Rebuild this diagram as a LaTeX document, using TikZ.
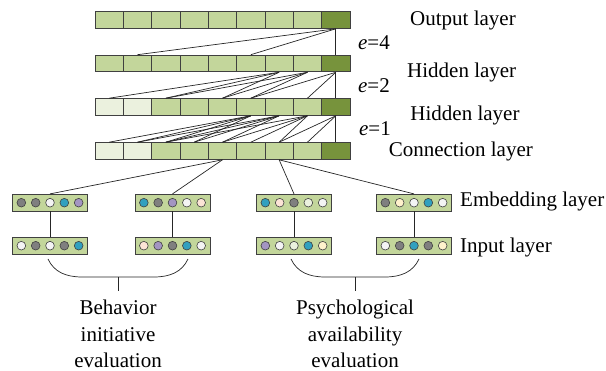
\documentclass[tikz,border=0pt]{standalone}
\usepackage{fontspec}
\setmainfont{Liberation Serif}
\usetikzlibrary{positioning,calc}

\definecolor{cellgreen}{HTML}{C3D69B}
\definecolor{cellpale}{HTML}{EBF1DE}
\definecolor{celldark}{HTML}{77933C}
\definecolor{cellline}{HTML}{404040}
\definecolor{dotgray}{HTML}{7F7F7F}
\definecolor{dotwhite}{HTML}{F4F4F4}
\definecolor{dotteal}{HTML}{31A0BF}
\definecolor{dotlilac}{HTML}{A395C2}
\definecolor{dotpeach}{HTML}{FCE4D6}
\definecolor{dotpale}{HTML}{EBF1DE}
\definecolor{dotcream}{HTML}{FFF2CC}

\tikzset{
  cell/.style={draw=cellline, line width=0.9pt, fill=cellgreen, minimum width=28.33pt, minimum height=16.7pt, inner sep=0pt},
  vecbox/.style={draw=cellline, line width=0.9pt, fill=cellgreen, minimum width=75pt, minimum height=16.7pt, inner sep=0pt},
  unit/.style={circle, draw=cellline, line width=0.6pt, minimum size=8.7pt, inner sep=0pt},
  link/.style={draw=black!85, line width=0.7pt},
  lbl/.style={font=\fontsize{21}{26.7}\selectfont, inner sep=0pt},
}

\begin{document}
\begin{tikzpicture}[x=1pt,y=-1pt]
  \useasboundingbox (0,0) rectangle (606,371);

  % stacked layers, last cell of each row is the dark one
  \foreach \row/\y/\f in {out/20/cellgreen, hidb/63.5/cellgreen, hida/107/cellpale, con/151/cellpale}{
    \foreach \i in {1,...,8}{
      \ifnum\i<3 \colorlet{cf}{\f}\else\colorlet{cf}{cellgreen}\fi
      \node[cell, fill=cf] (\row\i) at ({80.83+28.33*\i},\y) {};
    }
    \node[cell, fill=celldark] (\row9) at ({80.83+28.33*9},\y) {};
  }

  % dilated links between the rows
  \foreach \s/\t in {9/2,9/6,9/9}
    \draw[link] (out\s.south) -- (hidb\t.north);
  \foreach \s/\t in {7/1,7/3,7/5,8/3,8/5,8/6,9/6,9/8,9/9}
    \draw[link] (hidb\s.south) -- (hida\t.north);
  \foreach \s/\t in {6/1,6/2,6/3,6/4,7/2,7/3,7/4,7/5,8/3,8/5,8/6,8/7,9/7,9/8,9/9}
    \draw[link] (hida\s.south) -- (con\t.north);

  % embedding and input vectors
  \foreach \n/\x in {1/50,2/172.5,3/294,4/414}{
    \node[vecbox] (emb\n) at (\x,202.7) {};
    \node[vecbox] (inp\n) at (\x,245.7) {};
    \draw[link] (emb\n) -- (inp\n);
  }
  \foreach \b/\cols in {
      emb1/{dotgray,dotgray,dotwhite,dotteal,dotlilac},
      emb2/{dotteal,dotgray,dotlilac,dotwhite,dotpeach},
      emb3/{dotteal,dotpeach,dotgray,dotpale,dotwhite},
      emb4/{dotgray,dotcream,dotwhite,dotteal,dotwhite},
      inp1/{dotwhite,dotgray,dotwhite,dotgray,dotteal},
      inp2/{dotpeach,dotlilac,dotgray,dotteal,dotwhite},
      inp3/{dotlilac,dotwhite,dotpale,dotteal,dotcream},
      inp4/{dotwhite,dotgray,dotteal,dotgray,dotcream}}
    \foreach \c [count=\k] in \cols
      \node[unit, fill=\c] (\b-\k) at ([xshift={(\k-3)*14.33pt}]\b.center) {};

  \draw[link] (con5.south) -- (emb1.north);
  \draw[link] (con5.south) -- (emb2.north);
  \draw[link] (con7.south) -- (emb3.north);
  \draw[link] (con7.south) -- (emb4.north);

  % layer names
  \node[lbl] (outl) at (463,20.5) {Output layer};
  \node[lbl] (hidbl) at (461.7,72.5) {Hidden layer};
  \node[lbl] (hidal) at (465,115.8) {Hidden layer};
  \node[lbl] (conl) at (460.8,151) {Connection layer};
  \node[lbl] (e4) at (374,42.5) {\textit{e}=4};
  \node[lbl] (e2) at (374,86) {\textit{e}=2};
  \node[lbl] (e1) at (375,129) {\textit{e}=1};
  \node[lbl, anchor=west] (embl) at (460,201) {Embedding layer};
  \node[lbl, anchor=west] (inpl) at (460,247.5) {Input layer};

  % brackets under the inputs
  \draw[link] (48,259) .. controls (54,272) and (66,277) .. (82,277) -- (154,277)
    .. controls (170,277) and (182,272) .. (188,259);
  \draw[link] (291,259) .. controls (297,272) and (309,277) .. (325,277) -- (385,277)
    .. controls (401,277) and (413,272) .. (419,259);

  \node[lbl, align=center, anchor=north, inner ysep=8.6pt] (behav) at (118,291)
    {Behavior\\initiative\\evaluation};
  \node[lbl, align=center, anchor=north, inner ysep=8.6pt] (psych) at (355,291)
    {Psychological\\availability\\evaluation};
  \draw[link] (behav.north) -- ++(0,-14);
  \draw[link] (psych.north) -- ++(0,-14);
\end{tikzpicture}
\end{document}
